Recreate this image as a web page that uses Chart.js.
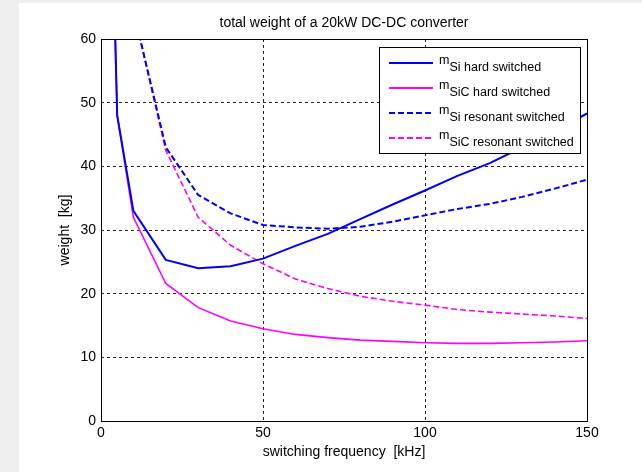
<!DOCTYPE html>
<html>
<head>
<meta charset="utf-8">
<script src="https://cdn.jsdelivr.net/npm/chart.js@4"></script>
<style>
  html, body { margin: 0; padding: 0; background: #efefef; }
  #panel { position: absolute; left: 19px; top: 3px; width: 623px; height: 469px; background: #fff; }
  #wrap { position: absolute; left: 0; top: 0; width: 642px; height: 472px; }
</style>
</head>
<body>
<div id="panel"></div>
<div id="wrap"><canvas id="weightChart" width="642" height="472"></canvas></div>
<script>
const freqHard = [1, 5, 10, 20, 30, 40, 50, 60, 70, 80, 90, 100, 110, 120, 130, 140, 150];
const freqRes = [5, 10, 20, 30, 40, 50, 60, 70, 80, 90, 100, 110, 120, 130, 140, 150];

const siHard = [128, 48, 33, 25.3, 24, 24.3, 25.5, 27.5, 29.4, 31.7, 34, 36.2, 38.5, 40.5, 43, 45.5, 48.3];
const sicHard = [128, 48, 32, 21.6, 17.8, 15.7, 14.5, 13.6, 13.1, 12.7, 12.5, 12.3, 12.2, 12.2, 12.3, 12.4, 12.6];
const siRes = [110, 64.5, 43, 35.5, 32.6, 30.8, 30.4, 30.2, 30.5, 31.3, 32.3, 33.3, 34.1, 35.2, 36.5, 37.9];
const sicRes = [110, 64.5, 42.5, 32, 27.6, 24.7, 22.3, 20.8, 19.6, 18.8, 18.2, 17.5, 17.1, 16.8, 16.5, 16.1];

const legendSubs = ['Si', 'SiC', 'Si', 'SiC'];
const legendRest = [' hard switched', ' hard switched', ' resonant switched', ' resonant switched'];

const FONT = '"Liberation Sans", Arial, Helvetica, sans-serif';

function toPoints(xs, ys) {
  return xs.map((x, i) => ({ x: x, y: ys[i] }));
}

// frame around the plot plus the MATLAB style legend with subscripts
const boxAndLegend = {
  id: 'boxAndLegend',
  afterDatasetsDraw(chart) {
    const ctx = chart.ctx;
    const a = chart.chartArea;
    ctx.save();
    ctx.strokeStyle = '#000';
    ctx.lineWidth = 1;
    ctx.setLineDash([]);
    ctx.strokeRect(Math.round(a.left) + 0.5, Math.round(a.top) + 0.5,
      Math.round(a.right - a.left), Math.round(a.bottom - a.top));

    const bx = 379, by = 47, bw = 201, bh = 106;
    ctx.fillStyle = '#fff';
    ctx.fillRect(bx, by, bw, bh);
    ctx.strokeRect(bx + 0.5, by + 0.5, bw, bh);

    chart.data.datasets.forEach((ds, i) => {
      const y = 63 + i * 25;
      ctx.beginPath();
      ctx.strokeStyle = ds.borderColor;
      ctx.lineWidth = 2;
      ctx.setLineDash(ds.borderDash || []);
      ctx.moveTo(389, y);
      ctx.lineTo(433, y);
      ctx.stroke();
      ctx.setLineDash([]);
      ctx.fillStyle = '#000';
      ctx.textBaseline = 'alphabetic';
      ctx.textAlign = 'left';
      ctx.font = '12.5px ' + FONT;
      ctx.fillText('m', 439, y + 1);
      const mw = ctx.measureText('m').width;
      ctx.fillText(legendSubs[i] + legendRest[i], 439 + mw, y + 7.5);
    });
    ctx.restore();
  }
};

const ctx = document.getElementById('weightChart').getContext('2d');
new Chart(ctx, {
  type: 'line',
  data: {
    datasets: [
      { label: 'mSi hard switched', data: toPoints(freqHard, siHard), borderColor: '#0000ff', borderWidth: 2 },
      { label: 'mSiC hard switched', data: toPoints(freqHard, sicHard), borderColor: '#ff00ff', borderWidth: 1.6 },
      { label: 'mSi resonant switched', data: toPoints(freqRes, siRes), borderColor: '#0000ff', borderWidth: 2, borderDash: [6, 3] },
      { label: 'mSiC resonant switched', data: toPoints(freqRes, sicRes), borderColor: '#ff00ff', borderWidth: 1.6, borderDash: [6, 3] }
    ]
  },
  options: {
    responsive: false,
    animation: false,
    layout: { padding: { left: 0, right: 55, top: 0, bottom: 0 } },
    elements: { point: { radius: 0 }, line: { tension: 0, fill: false } },
    plugins: {
      legend: { display: false },
      tooltip: { enabled: false },
      title: {
        display: true,
        fullSize: false,
        text: 'total weight of a 20kW DC-DC converter',
        color: '#000',
        font: { family: FONT, size: 14, weight: 'normal' },
        padding: { top: 15, bottom: 7.2 }
      }
    },
    scales: {
      x: {
        type: 'linear',
        min: 0,
        max: 150,
        afterFit(scale) { scale.height = 51; },
        ticks: { stepSize: 50, color: '#000', padding: 4, maxRotation: 0, font: { family: FONT, size: 14 } },
        grid: { color: 'rgba(0,0,0,0.85)', drawTicks: false, tickLength: 0 },
        border: { display: false, dash: [3, 3] },
        title: {
          display: true,
          text: 'switching frequency  [kHz]',
          color: '#000',
          font: { family: FONT, size: 14 },
          padding: { top: 0, bottom: 11 }
        }
      },
      y: {
        min: 0,
        max: 60,
        afterFit(scale) { scale.width = 101; },
        ticks: { stepSize: 10, color: '#000', padding: 5, font: { family: FONT, size: 14 } },
        grid: { color: 'rgba(0,0,0,0.85)', drawTicks: false, tickLength: 0 },
        border: { display: false, dash: [3, 3] },
        title: {
          display: true,
          text: 'weight  [kg]',
          color: '#000',
          font: { family: FONT, size: 14 },
          padding: { top: 57, bottom: 0 }
        }
      }
    }
  },
  plugins: [boxAndLegend]
});
</script>
</body>
</html>
